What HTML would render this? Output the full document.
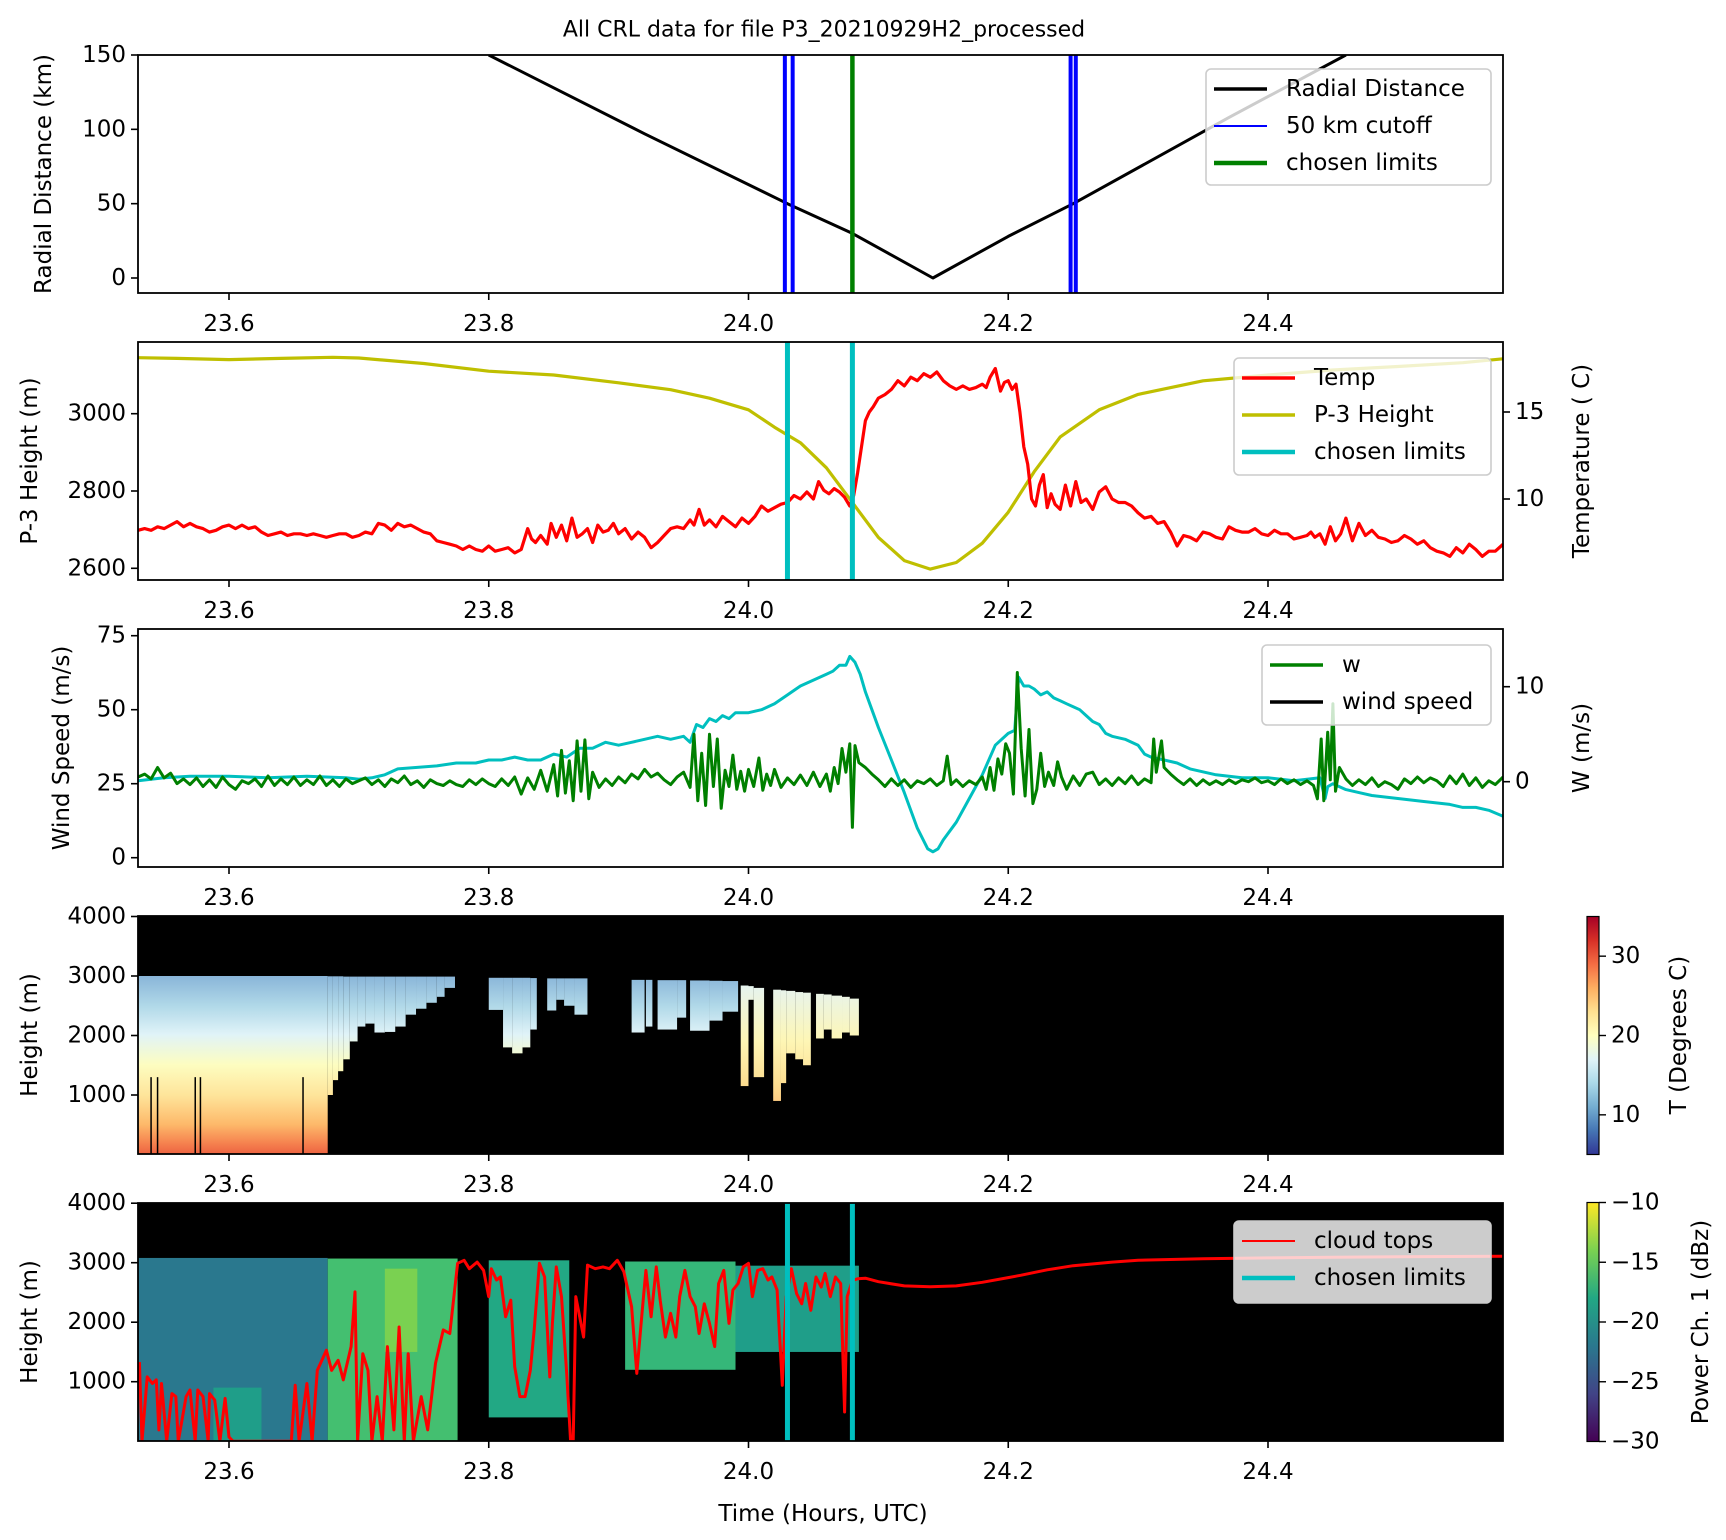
<!DOCTYPE html>
<html><head><meta charset="utf-8">
<style>
html,body{margin:0;padding:0;background:#fff;}
svg{display:block;font-family:"DejaVu Sans","Liberation Sans",sans-serif;}
</style></head>
<body>
<svg id="fig" xmlns="http://www.w3.org/2000/svg" width="1726" height="1540" viewBox="0 0 1726 1540">
<defs>
<linearGradient id="tempGrad" gradientUnits="userSpaceOnUse" x1="0" y1="975" x2="0" y2="1155">
<stop offset="0" stop-color="#88b4d8"/><stop offset="0.17" stop-color="#b0d8e8"/><stop offset="0.33" stop-color="#e0f3f8"/>
<stop offset="0.5" stop-color="#fdfdc0"/><stop offset="0.67" stop-color="#fee49a"/><stop offset="0.83" stop-color="#fdb96a"/>
<stop offset="0.93" stop-color="#f68450"/><stop offset="1" stop-color="#ec6040"/></linearGradient>
<linearGradient id="tempGradWarm" gradientUnits="userSpaceOnUse" x1="0" y1="985" x2="0" y2="1110">
<stop offset="0" stop-color="#e6f4f0"/><stop offset="0.45" stop-color="#fef6b5"/><stop offset="0.8" stop-color="#fddd90"/><stop offset="1" stop-color="#fdc27a"/></linearGradient>
<linearGradient id="cbT" x1="0" y1="1" x2="0" y2="0">
<stop offset="0" stop-color="#313695"/><stop offset="0.1" stop-color="#4575b4"/><stop offset="0.2" stop-color="#74add1"/><stop offset="0.3" stop-color="#abd9e9"/><stop offset="0.4" stop-color="#e0f3f8"/><stop offset="0.5" stop-color="#ffffbf"/><stop offset="0.6" stop-color="#fee090"/><stop offset="0.7" stop-color="#fdae61"/><stop offset="0.8" stop-color="#f46d43"/><stop offset="0.9" stop-color="#d73027"/><stop offset="1" stop-color="#a50026"/></linearGradient>
<linearGradient id="cbP" x1="0" y1="1" x2="0" y2="0">
<stop offset="0" stop-color="#440154"/><stop offset="0.2" stop-color="#414487"/><stop offset="0.4" stop-color="#2a788e"/><stop offset="0.6" stop-color="#22a884"/><stop offset="0.8" stop-color="#7ad151"/><stop offset="1" stop-color="#fde725"/></linearGradient>
<clipPath id="c1"><rect x="138" y="55" width="1365" height="238"/></clipPath>
<clipPath id="c2"><rect x="138" y="342" width="1365" height="238"/></clipPath>
<clipPath id="c3"><rect x="138" y="629" width="1365" height="238"/></clipPath>
<clipPath id="c4"><rect x="138" y="916" width="1365" height="238"/></clipPath>
<clipPath id="c5"><rect x="138" y="1203" width="1365" height="238"/></clipPath>
</defs>
<g id="root"></g>
</svg>
<script>
// ---------- data ----------
const xTicks = [23.6, 23.8, 24.0, 24.2, 24.4];
const xTickLabels = ["23.6", "23.8", "24.0", "24.2", "24.4"];

const radTimes = [23.80, 23.92, 24.03, 24.08, 24.142, 24.20, 24.25, 24.37, 24.46];
const radValues = [150, 97, 50, 30, 0, 28, 50, 108, 150];
const cutoffTimes = [24.028, 24.034, 24.248, 24.252];
const limitTimes = [24.03, 24.08];

const tempTimes = [23.530,23.535,23.540,23.545,23.550,23.555,23.560,23.565,23.570,23.575,23.580,23.585,23.590,23.595,23.600,23.605,23.610,23.615,23.620,23.625,23.630,23.635,23.640,23.645,23.650,23.655,23.660,23.665,23.670,23.675,23.680,23.685,23.690,23.695,23.700,23.705,23.710,23.715,23.720,23.725,23.730,23.735,23.740,23.745,23.750,23.755,23.760,23.765,23.770,23.775,23.780,23.785,23.790,23.795,23.800,23.805,23.810,23.815,23.820,23.825,23.830,23.833,23.836,23.840,23.845,23.848,23.852,23.856,23.860,23.864,23.868,23.872,23.876,23.880,23.884,23.888,23.892,23.896,23.900,23.905,23.910,23.915,23.920,23.925,23.930,23.935,23.940,23.945,23.950,23.955,23.958,23.962,23.966,23.970,23.975,23.980,23.985,23.990,23.995,24.000,24.005,24.010,24.015,24.020,24.025,24.030,24.035,24.040,24.045,24.050,24.054,24.058,24.062,24.066,24.070,24.074,24.078,24.081,24.084,24.087,24.090,24.093,24.096,24.100,24.105,24.110,24.115,24.120,24.125,24.130,24.135,24.140,24.145,24.150,24.155,24.160,24.165,24.170,24.175,24.180,24.183,24.186,24.190,24.194,24.197,24.200,24.203,24.206,24.209,24.212,24.215,24.218,24.221,24.224,24.227,24.230,24.233,24.236,24.240,24.244,24.248,24.252,24.256,24.260,24.265,24.270,24.275,24.280,24.285,24.290,24.295,24.300,24.305,24.310,24.315,24.320,24.325,24.330,24.335,24.340,24.345,24.350,24.355,24.360,24.365,24.370,24.375,24.380,24.385,24.390,24.395,24.400,24.405,24.410,24.415,24.420,24.425,24.430,24.433,24.436,24.440,24.444,24.448,24.452,24.456,24.460,24.465,24.470,24.475,24.480,24.485,24.490,24.495,24.500,24.505,24.510,24.515,24.520,24.525,24.530,24.535,24.540,24.545,24.550,24.555,24.560,24.565,24.570,24.575,24.581];
const tempValues = [8.2,8.3,8.2,8.4,8.3,8.5,8.7,8.4,8.6,8.4,8.3,8.1,8.2,8.4,8.5,8.3,8.5,8.3,8.4,8.1,7.9,8.0,8.1,7.9,8.0,8.0,7.9,8.0,7.9,7.8,7.9,8.0,8.0,7.8,7.9,8.1,8.0,8.6,8.5,8.2,8.6,8.4,8.5,8.3,8.1,8.0,7.6,7.5,7.4,7.3,7.1,7.3,7.1,7.0,7.3,7.0,7.1,7.2,6.9,7.1,8.3,7.7,7.5,7.9,7.4,8.6,7.8,8.5,7.6,8.9,7.8,8.0,8.3,7.5,8.5,8.1,8.2,8.6,8.0,8.3,7.7,8.1,7.8,7.2,7.5,7.9,8.3,8.4,8.3,8.8,8.5,9.4,8.5,8.8,8.4,9.0,8.7,8.4,8.9,8.6,9.0,9.6,9.3,9.5,9.7,9.8,10.2,10.0,10.4,10.0,11.0,10.5,10.3,10.6,10.4,10.1,9.6,10.2,11.5,13.0,14.5,15.0,15.3,15.8,16.0,16.3,16.8,16.5,17.0,16.8,17.2,17.0,17.3,16.8,16.5,16.3,16.5,16.3,16.4,16.6,16.4,17.0,17.5,16.2,16.7,16.8,16.3,16.6,15.0,13.0,12.0,10.0,9.6,10.8,11.4,9.5,10.3,9.7,9.4,10.8,9.6,11.0,9.8,10.0,9.4,10.4,10.7,10.0,9.8,9.8,9.6,9.2,8.9,9.0,8.6,8.7,8.1,7.3,7.9,7.8,7.6,8.1,8.0,7.8,7.7,8.4,8.2,8.1,8.1,8.3,8.0,7.9,8.2,8.0,8.0,7.7,7.8,7.9,8.1,7.8,8.0,7.4,8.4,7.6,8.0,8.9,7.6,8.6,7.9,8.2,7.8,7.7,7.5,7.6,7.9,7.7,7.4,7.6,7.2,7.0,6.9,6.7,7.2,6.9,7.4,7.1,6.7,7.0,7.0,7.4,7.6];

const heightTimes = [23.530,23.560,23.600,23.640,23.680,23.700,23.750,23.800,23.850,23.900,23.940,23.970,24.000,24.020,24.040,24.060,24.080,24.100,24.120,24.140,24.160,24.180,24.200,24.220,24.240,24.270,24.300,24.350,24.400,24.450,24.500,24.550,24.581];
const heightValues = [3145,3143,3140,3143,3146,3144,3130,3110,3100,3080,3062,3040,3010,2965,2925,2860,2770,2680,2620,2598,2615,2665,2745,2850,2940,3010,3050,3085,3100,3113,3122,3132,3142];

const windTimes = [23.530,23.550,23.570,23.600,23.630,23.660,23.690,23.700,23.710,23.720,23.730,23.745,23.760,23.775,23.790,23.800,23.810,23.820,23.830,23.840,23.850,23.860,23.870,23.880,23.890,23.900,23.910,23.920,23.930,23.940,23.950,23.955,23.960,23.965,23.970,23.975,23.980,23.985,23.990,24.000,24.010,24.020,24.030,24.040,24.050,24.060,24.065,24.070,24.075,24.078,24.082,24.086,24.090,24.095,24.100,24.110,24.120,24.130,24.138,24.142,24.146,24.150,24.160,24.170,24.180,24.190,24.200,24.205,24.208,24.212,24.216,24.220,24.225,24.230,24.235,24.240,24.245,24.250,24.255,24.260,24.265,24.270,24.275,24.280,24.290,24.300,24.305,24.310,24.320,24.330,24.340,24.360,24.380,24.400,24.420,24.440,24.444,24.446,24.450,24.460,24.470,24.480,24.500,24.520,24.540,24.550,24.560,24.570,24.581];
const windValues = [26,27,27.5,27.5,27,27.5,27,26.5,27,28,30,30.5,31,32,32,33,33,34,33,33,35,34,37,37,39,38,39,40,41,40,41,39,45,44,47,46,48,47,49,49,50,52,55,58,60,62,63,65,65,68,66,62,56,50,44,33,22,10,3,2,3,6,12,20,28,38,42,43,61,58,58,57,55,56,54,53,52,51,50,48,46,45,42,41,40,38,35,34,33,32,30,28,27,27,26,27,20,24,25,23,22,21,20,19,18,17,17,16,14];

const wTimes = [23.530,23.535,23.540,23.545,23.550,23.555,23.560,23.565,23.570,23.575,23.580,23.585,23.590,23.595,23.600,23.605,23.610,23.615,23.620,23.625,23.630,23.635,23.640,23.645,23.650,23.655,23.660,23.665,23.670,23.675,23.680,23.685,23.690,23.695,23.700,23.705,23.710,23.715,23.720,23.725,23.730,23.735,23.740,23.745,23.750,23.755,23.760,23.765,23.770,23.775,23.780,23.785,23.790,23.795,23.800,23.805,23.810,23.815,23.820,23.825,23.830,23.835,23.840,23.845,23.850,23.853,23.856,23.859,23.862,23.865,23.868,23.871,23.874,23.877,23.880,23.885,23.890,23.895,23.900,23.905,23.910,23.915,23.920,23.925,23.930,23.935,23.940,23.945,23.950,23.955,23.958,23.961,23.964,23.967,23.970,23.973,23.976,23.979,23.982,23.985,23.988,23.991,23.994,23.997,24.000,24.004,24.008,24.011,24.014,24.017,24.020,24.025,24.030,24.035,24.040,24.045,24.050,24.055,24.060,24.063,24.066,24.069,24.072,24.075,24.078,24.080,24.082,24.085,24.090,24.095,24.100,24.105,24.110,24.115,24.120,24.125,24.130,24.135,24.140,24.145,24.150,24.153,24.156,24.160,24.165,24.170,24.175,24.180,24.183,24.186,24.189,24.192,24.195,24.198,24.201,24.204,24.207,24.210,24.213,24.216,24.219,24.222,24.225,24.228,24.231,24.235,24.238,24.241,24.245,24.250,24.255,24.260,24.265,24.270,24.275,24.280,24.285,24.290,24.295,24.300,24.305,24.310,24.312,24.314,24.318,24.320,24.325,24.330,24.335,24.340,24.345,24.350,24.355,24.360,24.365,24.370,24.375,24.380,24.385,24.390,24.395,24.400,24.405,24.410,24.415,24.420,24.425,24.430,24.435,24.438,24.441,24.443,24.446,24.448,24.450,24.452,24.455,24.460,24.465,24.470,24.475,24.480,24.485,24.490,24.495,24.500,24.505,24.510,24.515,24.520,24.525,24.530,24.535,24.540,24.545,24.550,24.555,24.560,24.565,24.570,24.575,24.581];
const wValues = [0.5,0.8,0.3,1.5,0.4,0.9,-0.2,0.3,-0.3,0.4,-0.5,0.2,-0.6,0.5,-0.3,-0.8,0.1,-0.2,0.3,-0.5,0.6,-0.4,0.3,-0.3,0.5,-0.4,0.2,-0.3,0.6,-0.4,0.2,-0.5,0.3,-0.2,0.1,0.4,-0.3,0.2,-0.5,0.3,-0.1,0.6,-0.3,0.1,-0.6,0.2,-0.2,-0.4,0.1,-0.3,-0.5,0.2,-0.3,0.3,-0.2,-0.5,0.3,-0.4,0.5,-1.3,0.4,-0.8,1.2,-1.0,1.8,-1.5,3.3,-1.2,2.2,-2.0,4.3,-1.0,4.4,-1.8,1.0,-0.6,0.3,-0.4,0.5,-0.1,0.8,0.3,1.3,0.5,0.9,0.2,-0.3,0.5,1.0,-0.6,5.0,-2.0,3.0,-2.5,5.0,-0.5,4.5,-2.8,1.2,-0.5,2.8,-0.8,1.1,-1.0,1.3,-0.5,2.5,-0.9,0.8,-0.4,1.3,-0.6,0.4,-0.3,0.7,-0.4,1.0,-0.5,0.8,-1.0,1.5,-0.2,3.5,1.0,4.0,-4.8,3.8,2.0,1.5,0.8,0.2,-0.5,0.3,-0.4,0.2,-0.6,0.1,-0.2,0.3,-0.4,0.1,2.7,-0.3,0.2,-0.5,0.1,-0.3,0.5,-0.8,1.5,-0.9,2.4,0.8,4.0,3.0,-1.3,11.5,3.5,-1.5,5.5,-2.3,-0.8,3.0,-0.5,1.0,-0.4,2.1,0.5,-0.8,0.6,-0.4,0.8,1.0,-0.3,0.3,-0.4,0.4,-0.2,0.6,-0.3,0.3,-0.1,4.5,1.0,4.3,1.5,0.8,0.2,-0.3,0.3,-0.4,0.2,-0.3,0.1,-0.3,0.2,-0.2,0.2,0.0,0.4,-0.1,0.1,-0.3,0.3,-0.2,0.2,-0.3,0.1,-0.4,-1.8,4.5,-2.0,5.2,0.2,8.2,-1.0,1.5,0.3,-0.4,0.2,-0.3,0.4,-0.5,0.0,-0.3,-0.8,0.3,-0.2,0.5,-0.1,0.4,0.1,-0.5,0.6,-0.2,0.8,-0.4,0.4,-0.6,0.1,-0.3,0.5];

// Panel 4 temperature curtain (segments)
const t4Start  = [23.530,23.676,23.680,23.684,23.688,23.693,23.699,23.705,23.712,23.720,23.728,23.736,23.744,23.752,23.760,23.766,23.800,23.811,23.818,23.826,23.832,23.845,23.852,23.858,23.866,23.910,23.921,23.930,23.945,23.955,23.970,23.980,23.994,24.000,24.004,24.019,24.025,24.029,24.036,24.042,24.052,24.058,24.064,24.072,24.078];
const t4End    = [23.676,23.680,23.684,23.688,23.693,23.699,23.705,23.712,23.720,23.728,23.736,23.744,23.752,23.760,23.766,23.774,23.811,23.818,23.826,23.832,23.837,23.852,23.858,23.866,23.876,23.920,23.926,23.945,23.952,23.970,23.980,23.992,24.000,24.004,24.012,24.025,24.029,24.036,24.042,24.048,24.058,24.064,24.072,24.078,24.085];
const t4Bottom = [0,1000,1250,1400,1600,1900,2150,2200,2050,2060,2150,2350,2450,2550,2650,2800,2430,1800,1700,1800,2100,2420,2600,2500,2350,2050,2150,2100,2300,2080,2250,2400,1150,2600,1300,900,1200,1700,1600,1500,1950,2100,1950,2050,2000];
const t4Top    = [3000,2995,2995,2995,2990,2990,2990,2990,2990,2990,2990,2990,2990,2990,2990,2990,2970,2970,2970,2970,2965,2960,2960,2960,2960,2935,2935,2930,2930,2925,2920,2915,2840,2830,2800,2770,2760,2750,2730,2720,2700,2690,2670,2650,2620];
const t4Warm   = [0,0,0,0,0,0,0,0,0,0,0,0,0,0,0,0,0,0,0,0,0,0,0,0,0,0,0,0,0,0,0,0,1,1,1,1,1,1,1,1,1,1,1,1,1];
const t4Gaps   = [23.540,23.545,23.574,23.578,23.657];

// Panel 5 power curtain
const p5Start  = [23.530,23.588,23.676,23.720,23.800,23.905,23.990];
const p5End    = [23.676,23.625,23.776,23.745,23.862,23.990,24.085];
const p5Bottom = [0,0,0,1500,400,1200,1500];
const p5Top    = [3080,900,3070,2900,3040,3020,2950];
const p5Val    = [-22,-19,-16,-14,-18,-17,-19];

const cloudTimes = [23.531,23.533,23.537,23.541,23.544,23.546,23.548,23.552,23.556,23.559,23.561,23.567,23.570,23.574,23.576,23.580,23.584,23.585,23.589,23.593,23.597,23.600,23.603,23.648,23.651,23.654,23.660,23.664,23.668,23.675,23.679,23.684,23.688,23.694,23.697,23.699,23.703,23.707,23.710,23.714,23.718,23.722,23.727,23.731,23.735,23.738,23.742,23.748,23.753,23.759,23.765,23.770,23.776,23.781,23.785,23.791,23.796,23.800,23.802,23.806,23.809,23.813,23.817,23.820,23.824,23.828,23.832,23.835,23.839,23.843,23.847,23.849,23.852,23.856,23.860,23.863,23.865,23.867,23.873,23.876,23.882,23.888,23.893,23.899,23.904,23.910,23.914,23.918,23.921,23.925,23.929,23.932,23.936,23.940,23.944,23.947,23.951,23.955,23.959,23.962,23.966,23.970,23.974,23.977,23.981,23.985,23.988,23.992,23.996,24.000,24.003,24.007,24.011,24.015,24.018,24.022,24.026,24.029,24.033,24.037,24.041,24.044,24.048,24.052,24.056,24.059,24.063,24.067,24.071,24.074,24.076,24.080,24.084,24.090,24.100,24.120,24.140,24.160,24.180,24.200,24.210,24.230,24.250,24.280,24.300,24.350,24.400,24.450,24.500,24.581];
const cloudValues = [1330,0,1080,970,1030,190,970,0,800,750,0,750,860,0,860,750,0,800,690,0,720,70,0,0,940,0,970,0,1190,1530,1190,1360,1030,1590,2510,0,1470,1190,0,750,0,1590,190,1920,0,1470,0,750,190,1310,1870,1810,2990,3040,2900,3010,2870,2430,2900,2710,2760,2090,2370,1250,750,750,1190,1870,2990,2760,1080,1980,2930,2430,1140,0,0,2430,1750,2960,2900,2930,2900,3040,2850,2260,1140,2150,2870,2090,2930,2370,1750,2150,1750,2430,2870,2430,2260,1810,2310,1980,1590,2650,2870,1980,2540,2650,2930,2990,2430,2870,2900,2710,2760,2540,940,2430,2900,2480,2310,2650,2200,2760,2590,2820,2430,2760,2650,490,2430,2700,2730,2740,2680,2610,2595,2610,2670,2750,2790,2880,2950,3010,3040,3065,3080,3090,3100,3110];

const p1Ticks = [0, 50, 100, 150];
const p2HTicks = [2600, 2800, 3000];
const p2TTicks = [10, 15];
const p3WsTicks = [0, 25, 50, 75];
const p3WTicks = [0, 10];
const hTicks = [1000, 2000, 3000, 4000];
const cbTTicks = [10, 20, 30];
const cbPTicks = [-30, -25, -20, -15, -10];

// ---------- scales ----------
const X = t => 229 + (t - 23.6) * 1298.75;
const Y1 = v => 278 - v * 223 / 150;
const Y2h = v => 568.3 - (v - 2600) * 0.3865;
const Y2t = v => 499 - (v - 10) * 17.4;
const Y3s = v => 857.7 - v * 2.96;
const Y3w = v => 781.7 - v * 9.5;
const Y4 = v => 1154.5 - v * 0.0595;
const Y5 = v => 1441.2 - v * 0.0595;
const YcbT = v => 1154.5 - (v - 5) / 30 * 238;
const YcbP = v => 1441.5 - (v + 30) / 20 * 239;

const NS = "http://www.w3.org/2000/svg";
const root = document.getElementById("root");

function mk(tag, attrs, name, parent) {
  const el = document.createElementNS(NS, tag);
  for (const k in attrs) el.setAttribute(k, attrs[k]);
  
  
  (parent || root).appendChild(el);
  return el;
}
function txt(x, y, s, name, opts, parent) {
  const o = Object.assign({x: x, y: y, "font-size": 23, fill: "#000", "dominant-baseline": "central", "text-anchor": "middle"}, opts || {});
  const el = mk("text", o, name, parent);
  el.textContent = s;
  return el;
}
function poly(ts, vs, xf, yf, color, w, name, parent) {
  const pts = ts.map((t, i) => xf(t).toFixed(1) + "," + yf(vs[i]).toFixed(1)).join(" ");
  return mk("polyline", {points: pts, fill: "none", stroke: color, "stroke-width": w, "stroke-linejoin": "round"}, name, parent);
}
function vline(t, top, bot, color, w, name, parent) {
  return mk("line", {x1: X(t), x2: X(t), y1: top, y2: bot, stroke: color, "stroke-width": w}, name, parent);
}
function frame(top, name) {
  mk("rect", {x: 138, y: top, width: 1365, height: 238, fill: "none", stroke: "#000", "stroke-width": 1.8}, name);
}
function xAxis(top, pname) {
  const bot = top + 238;
  xTicks.forEach((t, i) => {
    mk("line", {x1: X(t), x2: X(t), y1: bot, y2: bot + 7, stroke: "#000", "stroke-width": 1.6}, pname + "-x-tick", null);
    txt(X(t), bot + 31, xTickLabels[i], pname + "-x-tick-label");
  });
}
function yAxisLeft(ticks, yf, pname) {
  ticks.forEach(v => {
    mk("line", {x1: 131, x2: 138, y1: yf(v), y2: yf(v), stroke: "#000", "stroke-width": 1.6}, pname + "-y-tick");
    txt(126, yf(v), String(v), pname + "-y-tick-label", {"text-anchor": "end"});
  });
}
function yAxisRight(ticks, yf, pname) {
  ticks.forEach(v => {
    mk("line", {x1: 1503, x2: 1510, y1: yf(v), y2: yf(v), stroke: "#000", "stroke-width": 1.6}, pname + "-y2-tick");
    txt(1515, yf(v), String(v), pname + "-y2-tick-label", {"text-anchor": "start"});
  });
}
function vlabel(x, y, s, name) {
  return txt(x, y, s, name, {transform: "rotate(-90 " + x + " " + y + ")"});
}
function legend(x, y, w, h, entries, name, bg) {
  const g = mk("g", {}, name);
  mk("rect", {x: x, y: y, width: w, height: h, rx: 5, fill: bg || "#fff", "fill-opacity": 0.8, stroke: "#cccccc", "stroke-width": 1.6}, name + "-box", g);
  entries.forEach((e, i) => {
    const ey = y + 20 + i * 37;
    mk("line", {x1: x + 8, x2: x + 61, y1: ey, y2: ey, stroke: e[1], "stroke-width": e[2]}, "legend-handle", g);
    txt(x + 80, ey, e[0], "legend-entry", {"text-anchor": "start"}, g);
  });
}

// title
txt(824, 30, "All CRL data for file P3_20210929H2_processed", "chart-title", {"font-size": 22});

// ---------- Panel 1 ----------
const g1 = mk("g", {"clip-path": "url(#c1)"}, "radial-plot-area");
poly(radTimes, radValues, X, Y1, "#000", 3, "radial-distance-line", g1);
cutoffTimes.forEach(t => vline(t, 55, 293, "#0000ff", 4, "cutoff-line", g1));
vline(limitTimes[1], 55, 293, "#008000", 4.5, "chosen-limit-line", g1);
frame(55, "radial-axes-frame");
xAxis(55, "radial");
yAxisLeft(p1Ticks, Y1, "radial");
vlabel(44, 174, "Radial Distance (km)", "radial-y-axis-title");
legend(1206, 69, 285, 116, [["Radial Distance", "#000", 3.5], ["50 km cutoff", "#0000ff", 2], ["chosen limits", "#008000", 4.5]], "radial-legend");

// ---------- Panel 2 ----------
const g2 = mk("g", {"clip-path": "url(#c2)"}, "height-temp-plot-area");
poly(heightTimes, heightValues, X, Y2h, "#bfbf00", 3.2, "p3-height-line", g2);
poly(tempTimes, tempValues, X, Y2t, "#ff0000", 3.2, "temp-line", g2);
limitTimes.forEach(t => vline(t, 342, 580, "#00bfbf", 5, "chosen-limit-line", g2));
frame(342, "height-axes-frame");
xAxis(342, "height");
yAxisLeft(p2HTicks, Y2h, "height");
yAxisRight(p2TTicks, Y2t, "temp");
vlabel(30, 461, "P-3 Height (m)", "height-y-axis-title");
vlabel(1582, 461, "Temperature ( C)", "temp-y-axis-title");
legend(1234, 358, 257, 117, [["Temp", "#ff0000", 3.5], ["P-3 Height", "#bfbf00", 3.5], ["chosen limits", "#00bfbf", 4.5]], "temp-legend");

// ---------- Panel 3 ----------
const g3 = mk("g", {"clip-path": "url(#c3)"}, "wind-plot-area");
poly(windTimes, windValues, X, Y3s, "#00bfbf", 3, "wind-speed-line", g3);
poly(wTimes, wValues, X, Y3w, "#008000", 3, "w-line", g3);
frame(629, "wind-axes-frame");
xAxis(629, "wind");
yAxisLeft(p3WsTicks, Y3s, "wind");
yAxisRight(p3WTicks, Y3w, "w");
vlabel(62, 748, "Wind Speed (m/s)", "wind-y-axis-title");
vlabel(1582, 748, "W (m/s)", "w-y-axis-title");
legend(1262, 645, 229, 80, [["w", "#008000", 3.5], ["wind speed", "#000", 3.5]], "wind-legend");

// ---------- Panel 4 ----------
const g4 = mk("g", {"clip-path": "url(#c4)"}, "temp-curtain-area");
mk("rect", {x: 138, y: 916, width: 1365, height: 238, fill: "#000"}, "temp-curtain-background", g4);
t4Start.forEach((s, i) => {
  mk("rect", {x: X(s), y: Y4(t4Top[i]), width: Math.max(1, X(t4End[i]) - X(s)), height: Y4(t4Bottom[i]) - Y4(t4Top[i]), fill: t4Warm[i] ? "url(#tempGradWarm)" : "url(#tempGrad)"}, "temp-curtain-column", g4);
});
t4Gaps.forEach(t => vline(t, Y4(1300), Y4(0), "#000", 1.5, "temp-curtain-gap", g4));
frame(916, "curtain-axes-frame");
xAxis(916, "curtain");
yAxisLeft(hTicks, Y4, "curtain");
vlabel(30, 1035, "Height (m)", "curtain-y-axis-title");
mk("rect", {x: 1587, y: 916.5, width: 12, height: 238, fill: "url(#cbT)", stroke: "#000", "stroke-width": 1.2}, "temp-colorbar");
cbTTicks.forEach(v => {
  mk("line", {x1: 1599, x2: 1606, y1: YcbT(v), y2: YcbT(v), stroke: "#000", "stroke-width": 1.4}, "temp-colorbar-tick");
  txt(1611, YcbT(v), String(v), "temp-colorbar-tick-label", {"text-anchor": "start"});
});
vlabel(1679, 1035, "T (Degrees C)", "temp-colorbar-title");

// ---------- Panel 5 ----------
const vir = v => {
  const stops = [[-30,"#440154"],[-26,"#414487"],[-22,"#2a788e"],[-18,"#22a884"],[-14,"#7ad151"],[-10,"#fde725"]];
  let best = stops[0][1];
  for (const s of stops) if (v >= s[0]) best = s[1];
  if (v === -19) return "#1f9e89";
  if (v === -17) return "#35b779";
  if (v === -16) return "#44bf70";
  return best;
};
const g5 = mk("g", {"clip-path": "url(#c5)"}, "power-curtain-area");
mk("rect", {x: 138, y: 1203, width: 1365, height: 238, fill: "#000"}, "power-curtain-background", g5);
p5Start.forEach((s, i) => {
  mk("rect", {x: X(s), y: Y5(p5Top[i]), width: X(p5End[i]) - X(s), height: Y5(p5Bottom[i]) - Y5(p5Top[i]), fill: vir(p5Val[i])}, "power-curtain-column", g5);
});
poly(cloudTimes, cloudValues, X, Y5, "#ff0000", 3, "cloud-tops-line", g5);
limitTimes.forEach(t => vline(t, 1203, 1441, "#00bfbf", 5, "chosen-limit-line", g5));
frame(1203, "power-axes-frame");
xAxis(1203, "power");
yAxisLeft(hTicks, Y5, "power");
vlabel(30, 1322, "Height (m)", "power-y-axis-title");
legend(1234, 1221, 257, 82, [["cloud tops", "#ff0000", 2], ["chosen limits", "#00bfbf", 4.5]], "power-legend", "#ffffff");
mk("rect", {x: 1587, y: 1202.5, width: 12, height: 239, fill: "url(#cbP)", stroke: "#000", "stroke-width": 1.2}, "power-colorbar");
cbPTicks.forEach(v => {
  mk("line", {x1: 1599, x2: 1606, y1: YcbP(v), y2: YcbP(v), stroke: "#000", "stroke-width": 1.4}, "power-colorbar-tick");
  txt(1611, YcbP(v), "\u2212" + String(Math.abs(v)), "power-colorbar-tick-label", {"text-anchor": "start"});
});
vlabel(1701, 1322, "Power Ch. 1 (dBz)", "power-colorbar-title");

txt(823, 1514, "Time (Hours, UTC)", "x-axis-title");
</script>
</body></html>
